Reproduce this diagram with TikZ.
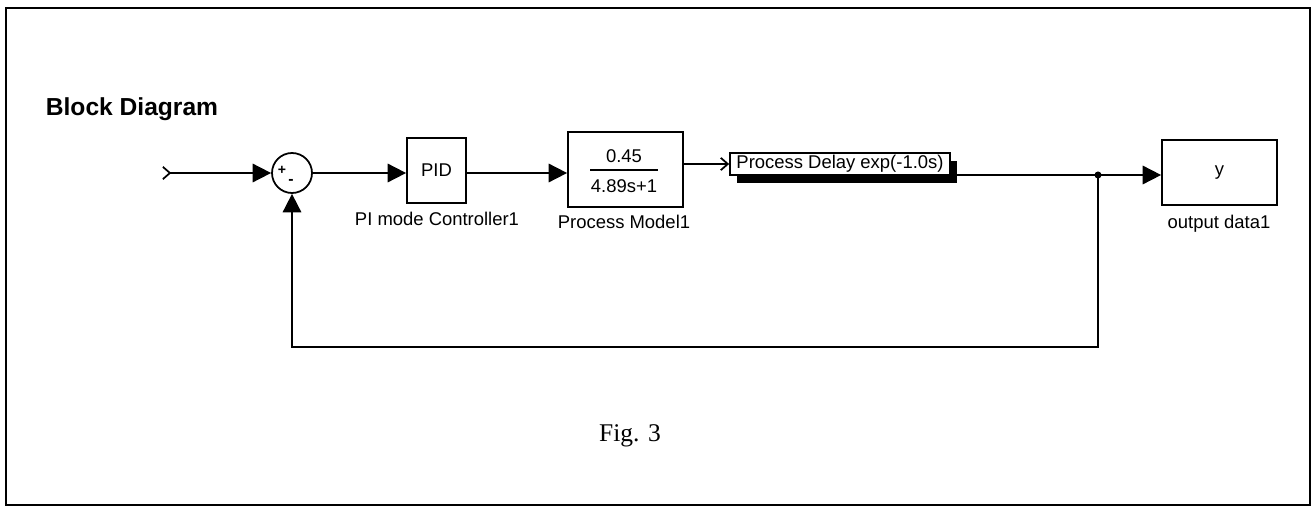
\documentclass[tikz,border=0pt]{standalone}
\usepackage{fontspec}
\setmainfont{Liberation Serif}
\setsansfont{Liberation Sans}
\usetikzlibrary{arrows.meta,shadows}

\begin{document}
\begin{tikzpicture}[x=0.02cm, y=-0.02cm, line width=1pt,
		every node/.style={font=\sffamily\fontsize{10.5}{12}\selectfont},
		blk/.style={draw, line width=1pt, inner sep=1pt},
		sig/.style={-{Triangle[length=10.5pt, width=10.5pt]}}]
	% 1. 外框与标题
	\useasboundingbox (0,0) rectangle (1315,510);
	\draw[line width=1.4pt] (6,8) rectangle (1310,505);
	\node[anchor=base west, inner sep=0pt, font=\sffamily\bfseries\fontsize{14}{16}\selectfont] (title) at (45,115) {Block Diagram};
	
	% 2. 方块
	\node[draw, circle, minimum size=0.8cm, inner sep=0pt] (sum) at (292,173) {};
	\node[inner sep=0pt, font=\sffamily\bfseries\fontsize{8}{8}\selectfont] (plus) at (282,170) {+};
	\node[inner sep=0pt, font=\sffamily\bfseries\fontsize{9}{9}\selectfont] (minus) at (291,182) {-};
	\node[blk, minimum width=1.18cm, minimum height=1.3cm] (pid) at (436.5,170.5) {PID};
	\node[blk, minimum width=2.3cm, minimum height=1.5cm] (model) at (625.5,169.5) {};
	\node[anchor=base, inner sep=0pt] (num) at (624,162) {0.45};
	\node[anchor=base, inner sep=0pt] (den) at (624,193) {4.89s+1};
	\draw (590,170) -- (658,170);
	\node[blk, fill=white, minimum width=4.4cm, minimum height=0.44cm,
		drop shadow={shadow xshift=4.2pt, shadow yshift=-4.5pt, fill=black, opacity=1}] (delay) at (840,164) {Process Delay exp(-1.0s)};
	\node[blk, minimum width=2.3cm, minimum height=1.3cm] (out) at (1219.5,172.5) {y};
	
	% 3. 方块名称
	\node[anchor=base] (pidlbl) at (437,225) {PI mode Controller1};
	\node[anchor=base] (modellbl) at (624,228) {Process Model1};
	\node[anchor=base] (outlbl) at (1219,228) {output data1};
	
	% 4. 连线
	\coordinate (in) at (162,173);
	\coordinate (branch) at (1098,175);
	\draw[{Straight Barb[reversed, length=4pt, width=7pt]}-{Triangle[length=10.5pt, width=10.5pt]}] (in) -- (sum);
	\draw[sig] (sum.east) -- (sum.east -| pid.west);
	\draw[sig] (pid.east |- sum) -- (model.west |- sum);
	\draw[-{Straight Barb[length=4pt, width=7pt]}] (model.east |- delay.west) -- (delay.west);
	\draw (delay.east |- branch) -- (branch);
	\draw[sig] (branch) -- (branch -| out.west);
	\fill (branch) circle (2pt);
	\draw[sig] (branch) -- ++(0,172) -| (sum);
	
	% 5. 图号
	\node[anchor=base, font=\rmfamily\fontsize{14.5}{16}\selectfont] (fig) at (630,441) {Fig. 3};
\end{tikzpicture}
\end{document}
